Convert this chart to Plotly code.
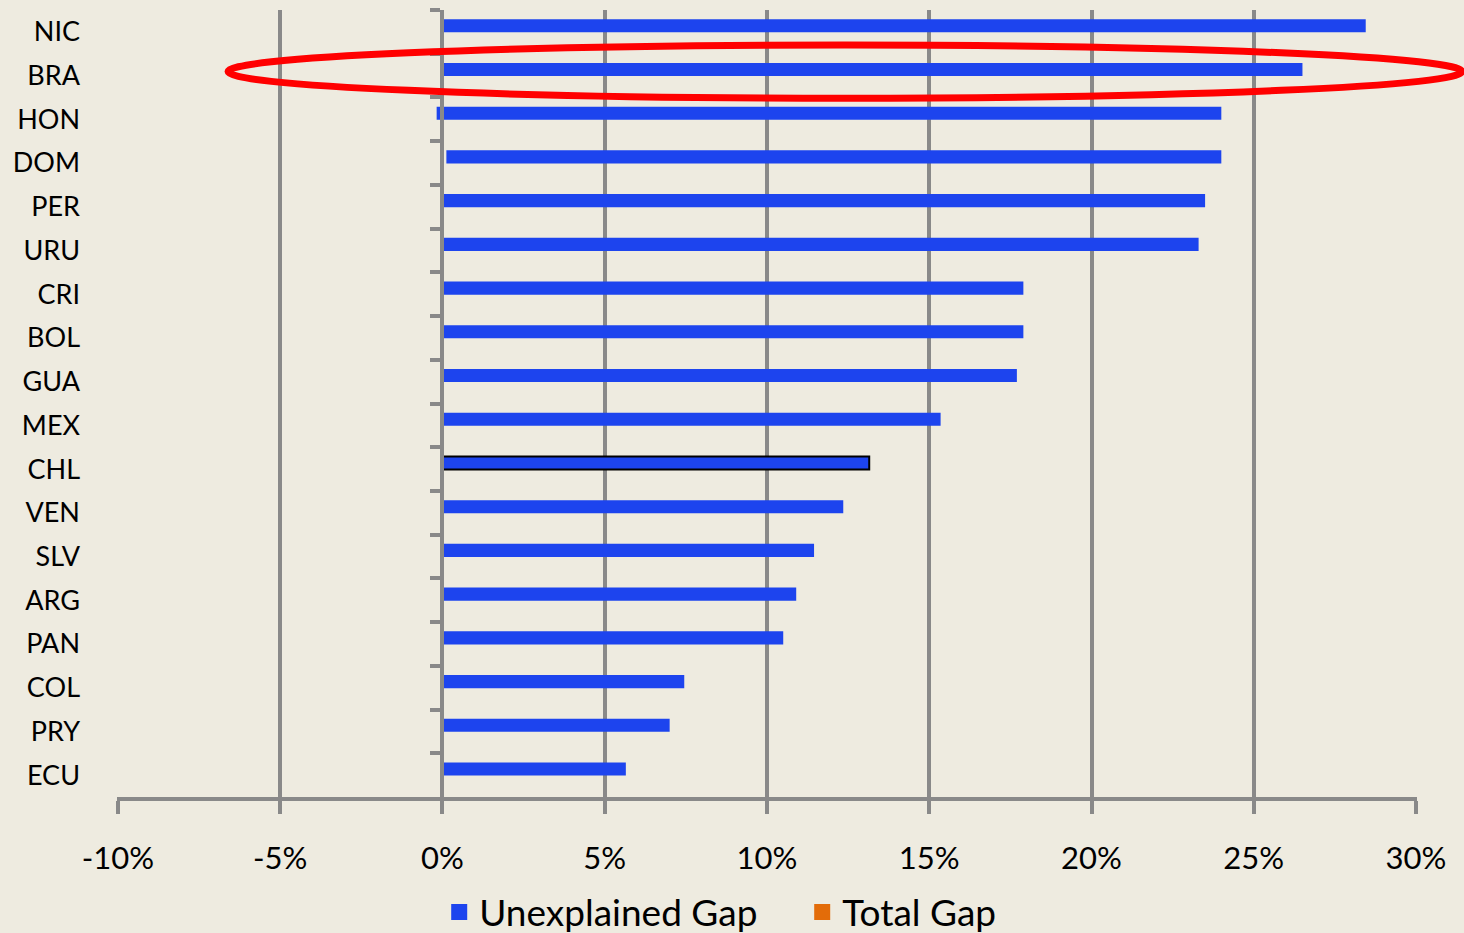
import plotly.graph_objects as go

countries = ["NIC", "BRA", "HON", "DOM", "PER", "URU", "CRI", "BOL", "GUA",
             "MEX", "CHL", "VEN", "SLV", "ARG", "PAN", "COL", "PRY", "ECU"]
unexplained_end = [0.2845, 0.2650, 0.2400, 0.2400, 0.2350, 0.2330, 0.1790, 0.1790, 0.1770,
                   0.1535, 0.1315, 0.1235, 0.1145, 0.1090, 0.1050, 0.0745, 0.0700, 0.0565]
unexplained_start = [0.0, 0.0, -0.0018, 0.0012, 0.0, -0.0005, 0.0, 0.0, 0.0,
                     0.0, 0.0, 0.0, 0.0, 0.0, 0.0, 0.0, -0.0003, 0.0]
total_gap = [None] * len(countries)
x_ticks = [-0.10, -0.05, 0.0, 0.05, 0.10, 0.15, 0.20, 0.25, 0.30]
x_tick_labels = ["-10%", "-5%", "0%", "5%", "10%", "15%", "20%", "25%", "30%"]

BLUE = "#1D44EE"
ORANGE = "#E36C09"
GRAY = "#898989"
BG = "#EEEBE0"
FONT = "Lato, Carlito, 'Open Sans', sans-serif"

line_colors = ["#000000" if c == "CHL" else BLUE for c in countries]
line_widths = [2 if c == "CHL" else 0 for c in countries]

fig = go.Figure()
fig.add_trace(go.Bar(
    y=countries,
    x=[e - s for e, s in zip(unexplained_end, unexplained_start)],
    base=unexplained_start,
    orientation="h",
    marker=dict(color=BLUE, line=dict(color=line_colors, width=line_widths)),
    width=0.3, offset=-0.29,
    name="Unexplained Gap", showlegend=False,
))
fig.add_trace(go.Bar(
    y=countries, x=total_gap, orientation="h", yaxis="y2",
    marker=dict(color=ORANGE, line=dict(width=0)),
    width=0.3, offset=0.0,
    name="Total Gap", showlegend=False,
))
# legend entries
fig.add_trace(go.Scatter(x=[None], y=[None], mode="markers", name="Unexplained Gap",
                         marker=dict(symbol="square", size=22, color=BLUE)))
fig.add_trace(go.Scatter(x=[None], y=[None], mode="markers", name="Total Gap",
                         marker=dict(symbol="square", size=22, color=ORANGE)))

fig.update_layout(
    width=1464, height=933,
    margin=dict(l=117, r=47, t=10, b=136, autoexpand=False),
    paper_bgcolor=BG, plot_bgcolor=BG,
    font=dict(family=FONT, color="#000000"),
    barmode="overlay",
    xaxis=dict(
        range=[-0.1003, 0.3003], tickvals=x_ticks, ticktext=x_tick_labels,
        showgrid=True, gridcolor=GRAY, gridwidth=3.5,
        zeroline=False, automargin=False,
        showline=True, linecolor=GRAY, linewidth=3.5,
        ticks="outside", ticklen=13, tickwidth=3.5, tickcolor=GRAY,
        tickfont=dict(size=31, family=FONT),
        ticklabelstandoff=18,
    ),
    yaxis=dict(
        type="category", categoryorder="array", categoryarray=countries,
        range=[17.5, -0.5], automargin=False,
        showgrid=False, zeroline=False, showline=False,
        ticks="", tickfont=dict(size=27, family=FONT),
        ticklabelstandoff=36,
    ),
    yaxis2=dict(
        type="category", categoryorder="array", categoryarray=countries,
        matches="y", overlaying="y", anchor="free", position=0.25, side="left",
        automargin=False,
        showgrid=False, zeroline=False, showticklabels=False,
        showline=True, linecolor=GRAY, linewidth=3.5,
        ticks="outside", tickson="boundaries", ticklen=10, tickwidth=3.5, tickcolor=GRAY,
    ),
    legend=dict(
        orientation="h", xref="container", yref="container",
        x=0.3, xanchor="left", y=0.022, yanchor="middle",
        font=dict(size=37, family=FONT), itemsizing="trace",
        entrywidth=318, entrywidthmode="pixels",
        bgcolor="rgba(0,0,0,0)",
    ),
    shapes=[dict(
        type="circle", xref="paper", yref="paper",
        x0=0.0854, x1=1.0346, y0=0.888, y1=0.9555,
        line=dict(color="#FF0000", width=7), layer="above",
    )],
)

fig.write_html("out.html")
